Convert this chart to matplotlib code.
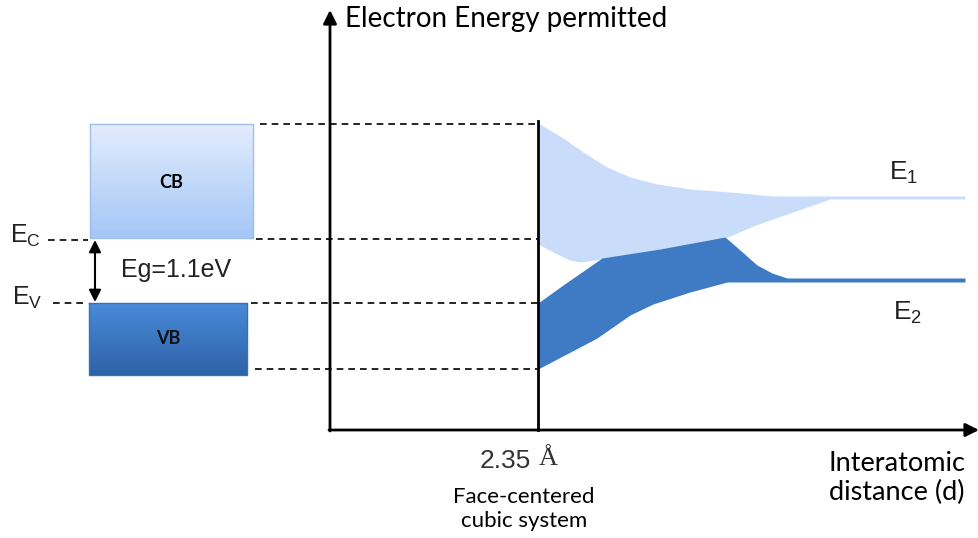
import numpy as np
import matplotlib.pyplot as plt
from matplotlib.colors import LinearSegmentedColormap

# Band-diagram data (pixel-like drawing units, y grows downward)
d0 = 538          # equilibrium spacing position, 2.35 A
E_top, E_c, E_v, E_bot = 124, 239, 303, 369

# conduction band (E1) envelope
cb_up_x = [538, 563, 583, 607, 630, 657, 690, 730, 773, 965]
cb_up_y = [123, 138, 152, 167, 177, 184, 189, 192, 196, 196]
cb_lo_x = [538, 557, 570, 580, 602, 660, 725, 737, 753, 830, 965]
cb_lo_y = [243, 253, 259, 261, 258, 249, 237, 232, 225, 198, 198]

# valence band (E2) envelope
vb_up_x = [538, 563, 602, 660, 725, 740, 757, 772, 787, 965]
vb_up_y = [303, 285, 258, 249, 237, 250, 265, 273, 278, 278]
vb_lo_x = [538, 597, 630, 653, 690, 727, 965]
vb_lo_y = [368, 337, 314, 303, 291, 281, 281]

fig = plt.figure(figsize=(9.79, 5.38), dpi=100)
ax = fig.add_axes([0, 0, 1, 1])
ax.set_xlim(0, 979)
ax.set_ylim(538, 0)
ax.axis('off')

calibri = ['Lato', 'DejaVu Sans']
arial = ['Liberation Sans', 'DejaVu Sans']
serif = ['Liberation Serif', 'DejaVu Serif']

def envelope(ux, uy, lx, ly):
    xs = np.linspace(538, 965, 400)
    return xs, np.interp(xs, ux, uy), np.interp(xs, lx, ly)

xs, u, l = envelope(cb_up_x, cb_up_y, cb_lo_x, cb_lo_y)
ax.fill_between(xs, u, l + 1, color='#c9dcfa', lw=0)
xs, u, l = envelope(vb_up_x, vb_up_y, vb_lo_x, vb_lo_y)
ax.fill_between(xs, u, l + 1, color='#3f7bc4', lw=0)

# gradient boxes for CB and VB
grad = np.linspace(0, 1, 100).reshape(-1, 1)
cb_cmap = LinearSegmentedColormap.from_list('cb', ['#e2edfd', '#a4c6f6'])
vb_cmap = LinearSegmentedColormap.from_list('vb', ['#4a8ada', '#2d62a6'])
ax.imshow(grad, cmap=cb_cmap, extent=[90, 253, 238, 124], aspect='auto', zorder=2)
ax.plot([90, 253, 253, 90, 90], [124, 124, 238, 238, 124], color='#9fbfe8', lw=1, zorder=3)
ax.imshow(grad, cmap=vb_cmap, extent=[89, 247, 375, 303], aspect='auto', zorder=2)
ax.plot([89, 247, 247, 89, 89], [303, 303, 375, 375, 303], color='#3a6fb5', lw=1, zorder=3)
ax.text(171, 183, 'CB', ha='center', va='center', fontsize=13, fontweight='bold',
        family=calibri, zorder=4)
ax.text(168, 339, 'VB', ha='center', va='center', fontsize=13, fontweight='bold',
        color='#111111', family=calibri, zorder=4)

# dashed guide lines
dash = dict(color='black', lw=1.2, ls=(0, (4, 3)))
ax.plot([260, d0], [E_top, E_top], **dash)
ax.plot([48, 88], [E_c + 1, E_c + 1], **dash)
ax.plot([256, d0], [E_c, E_c], **dash)
ax.plot([53, 88], [E_v, E_v], **dash)
ax.plot([251, d0], [E_v, E_v], **dash)
ax.plot([255, d0], [E_bot, E_bot], **dash)

# band gap arrow
ax.annotate('', xy=(95, 302), xytext=(95, 240),
            arrowprops=dict(arrowstyle='<|-|>', color='black', lw=1.5, mutation_scale=18,
                            shrinkA=0, shrinkB=0))
ax.text(121, 270, 'Eg=1.1eV', ha='left', va='center', fontsize=18, family=arial, color='#222222')
ax.text(10, 236, r'E$_\mathregular{C}$', ha='left', va='center', fontsize=18, family=arial, color='#222222')
ax.text(12, 298, r'E$_\mathregular{V}$', ha='left', va='center', fontsize=18, family=arial, color='#222222')

# axes
ax.annotate('', xy=(330, 10), xytext=(330, 431),
            arrowprops=dict(arrowstyle='-|>', color='black', lw=2, mutation_scale=20,
                            shrinkA=0, shrinkB=0))
ax.annotate('', xy=(979, 430), xytext=(329, 430),
            arrowprops=dict(arrowstyle='-|>', color='black', lw=2, mutation_scale=20,
                            shrinkA=0, shrinkB=0))
ax.plot([d0, d0], [121, 430], color='black', lw=2)

ax.text(345, 19, 'Electron Energy permitted', ha='left', va='center', fontsize=20, family=calibri)
ax.text(897, 478, 'Interatomic\ndistance (d)', ha='center', va='center', fontsize=19.5,
        family=calibri, linespacing=1.2)
ax.text(480, 461, '2.35', ha='left', va='center', fontsize=19, family=arial, color='#333333')
ax.text(548, 459, 'Å', ha='center', va='center', fontsize=19, family=serif, color='#333333')
ax.text(524, 509, 'Face-centered\ncubic system', ha='center', va='center', fontsize=16,
        family=calibri, linespacing=1.2)

ax.text(889, 173, r'E$_\mathregular{1}$', ha='left', va='center', fontsize=19, family=arial, color='#222222')
ax.text(893, 313, r'E$_\mathregular{2}$', ha='left', va='center', fontsize=19, family=arial, color='#222222')

fig.savefig('out.png', dpi=100)
